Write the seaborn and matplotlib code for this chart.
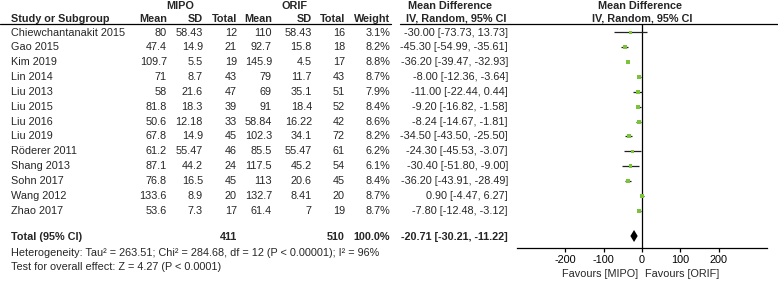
import matplotlib
matplotlib.use("Agg")
import matplotlib.pyplot as plt
import seaborn as sns
import numpy as np
import pandas as pd

sns.set_theme(style="white")
plt.rcParams['font.family'] = ['Liberation Sans', 'DejaVu Sans']

studies = ["Chiewchantanakit 2015", "Gao 2015", "Kim 2019", "Lin 2014", "Liu 2013",
           "Liu 2015", "Liu 2016", "Liu 2019", "Röderer 2011", "Shang 2013",
           "Sohn 2017", "Wang 2012", "Zhao 2017"]
mipo_mean = ["80", "47.4", "109.7", "71", "58", "81.8", "50.6", "67.8", "61.2", "87.1", "76.8", "133.6", "53.6"]
mipo_sd = ["58.43", "14.9", "5.5", "8.7", "21.6", "18.3", "12.18", "14.9", "55.47", "44.2", "16.5", "8.9", "7.3"]
mipo_n = [12, 21, 19, 43, 47, 39, 33, 45, 46, 24, 45, 20, 17]
orif_mean = ["110", "92.7", "145.9", "79", "69", "91", "58.84", "102.3", "85.5", "117.5", "113", "132.7", "61.4"]
orif_sd = ["58.43", "15.8", "4.5", "11.7", "35.1", "18.4", "16.22", "34.1", "55.47", "45.2", "20.6", "8.41", "7"]
orif_n = [16, 18, 17, 43, 51, 52, 42, 72, 61, 54, 45, 20, 19]
weight = [3.1, 8.2, 8.8, 8.7, 7.9, 8.4, 8.6, 8.2, 6.2, 6.1, 8.4, 8.7, 8.7]
md = [-30.00, -45.30, -36.20, -8.00, -11.00, -9.20, -8.24, -34.50, -24.30, -30.40, -36.20, 0.90, -7.80]
ci_lo = [-73.73, -54.99, -39.47, -12.36, -22.44, -16.82, -14.67, -43.50, -45.53, -51.80, -43.91, -4.47, -12.48]
ci_hi = [13.73, -35.61, -32.93, -3.64, 0.44, -1.58, -1.81, -25.50, -3.07, -9.00, -28.49, 6.27, -3.12]
total_n = [411, 510]
total_md = [-20.71, -30.21, -11.22]
xticks = [-200, -100, 0, 100, 200]
heterogeneity = "Heterogeneity: Tau² = 263.51; Chi² = 284.68, df = 12 (P < 0.00001); I² = 96%"
overall = "Test for overall effect: Z = 4.27 (P < 0.0001)"

W, H = 778, 281
FS = 7.85
fig = plt.figure(figsize=(W / 100, H / 100), dpi=100)
bg = fig.add_axes([0, 0, 1, 1])
bg.set_xlim(0, W)
bg.set_ylim(H, 0)
bg.axis("off")

row0, dy = 32.5, 14.85
def ry(i):
    return row0 + dy * i
total_y = 237.5

# headers
hb = dict(fontsize=FS, fontweight="bold", va="center")
bg.text(180, 6, "MIPO", ha="center", **hb)
bg.text(295, 6, "ORIF", ha="center", **hb)
bg.text(450, 6, "Mean Difference", ha="center", **hb)
bg.text(640, 6, "Mean Difference", ha="center", **hb)
hy = 18.5
bg.text(11, hy, "Study or Subgroup", ha="left", **hb)
for x, t in [(167, "Mean"), (203, "SD"), (237, "Total"), (272, "Mean"), (312, "SD"),
             (345, "Total"), (390, "Weight")]:
    bg.text(x, hy, t, ha="right", **hb)
bg.text(456, hy, "IV, Random, 95% CI", ha="center", **hb)
bg.text(642, hy, "IV, Random, 95% CI", ha="center", **hb)
bg.plot([0, 391], [23.5, 23.5], color="black", lw=0.9)
bg.plot([400, W], [23.5, 23.5], color="black", lw=0.9)

# rows
for i, s in enumerate(studies):
    y = ry(i)
    kw = dict(fontsize=FS, va="center")
    bg.text(11, y, s, ha="left", **kw)
    bg.text(167, y, mipo_mean[i], ha="right", **kw)
    bg.text(203, y, mipo_sd[i], ha="right", **kw)
    bg.text(237, y, str(mipo_n[i]), ha="right", **kw)
    bg.text(272, y, orif_mean[i], ha="right", **kw)
    bg.text(312, y, orif_sd[i], ha="right", **kw)
    bg.text(345, y, str(orif_n[i]), ha="right", **kw)
    bg.text(390, y, f"{weight[i]:.1f}%", ha="right", **kw)
    bg.text(508, y, f"{md[i]:.2f} [{ci_lo[i]:.2f}, {ci_hi[i]:.2f}]", ha="right", **kw)

tb = dict(fontsize=FS, fontweight="bold", va="center")
bg.text(11, total_y, "Total (95% CI)", ha="left", **tb)
bg.text(237, total_y, str(total_n[0]), ha="right", **tb)
bg.text(345, total_y, str(total_n[1]), ha="right", **tb)
bg.text(390, total_y, f"{sum(weight):.1f}%", ha="right", **tb)
bg.text(508, total_y, f"{total_md[0]:.2f} [{total_md[1]:.2f}, {total_md[2]:.2f}]", ha="right", **tb)
bg.text(11, 252.5, heterogeneity, ha="left", fontsize=FS, va="center")
bg.text(11, 267, overall, ha="left", fontsize=FS, va="center")

# forest axes
ax_l, ax_r, ax_t, ax_b = 517, 767, 23.5, 248
ax = fig.add_axes([ax_l / W, (H - ax_b) / H, (ax_r - ax_l) / W, (ax_b - ax_t) / H])
ax.set_xlim(-325, 325)
ax.set_ylim((ax_b - row0) / dy, (ax_t - row0) / dy)
ax.patch.set_alpha(0)
for sp in ["top", "right", "left"]:
    ax.spines[sp].set_visible(False)
ax.spines["bottom"].set_linewidth(0.9)
ax.spines["bottom"].set_color("black")
ax.set_yticks([])
ax.set_xticks(xticks)
ax.set_xticklabels([str(t) for t in xticks], fontsize=FS)
ax.tick_params(axis="x", direction="out", length=3, width=0.9, pad=2, bottom=True, colors="black")
ax.axvline(0, color="black", lw=0.9, zorder=1)

rows = np.arange(len(studies))
ax.hlines(rows, ci_lo, ci_hi, color="#222222", lw=0.9, zorder=2)
df = pd.DataFrame({"md": md, "row": rows, "w": weight})
sns.scatterplot(data=df, x="md", y="row", size="w", sizes=(3, 9), marker="s",
                color="#7DC23B", linewidth=0, legend=False, ax=ax, zorder=3)
ax.set_xlabel("")
ax.set_ylabel("")

ty = (total_y - 1.5 - row0) / dy
hh = 6 / dy
ax.fill([total_md[1], total_md[0], total_md[2], total_md[0]],
        [ty, ty - hh, ty, ty + hh], color="black", lw=0, zorder=4)

bg.text(600, 274, "Favours [MIPO]", ha="center", va="center", fontsize=FS)
bg.text(682, 274, "Favours [ORIF]", ha="center", va="center", fontsize=FS)

fig.savefig("out.png", dpi=100)
